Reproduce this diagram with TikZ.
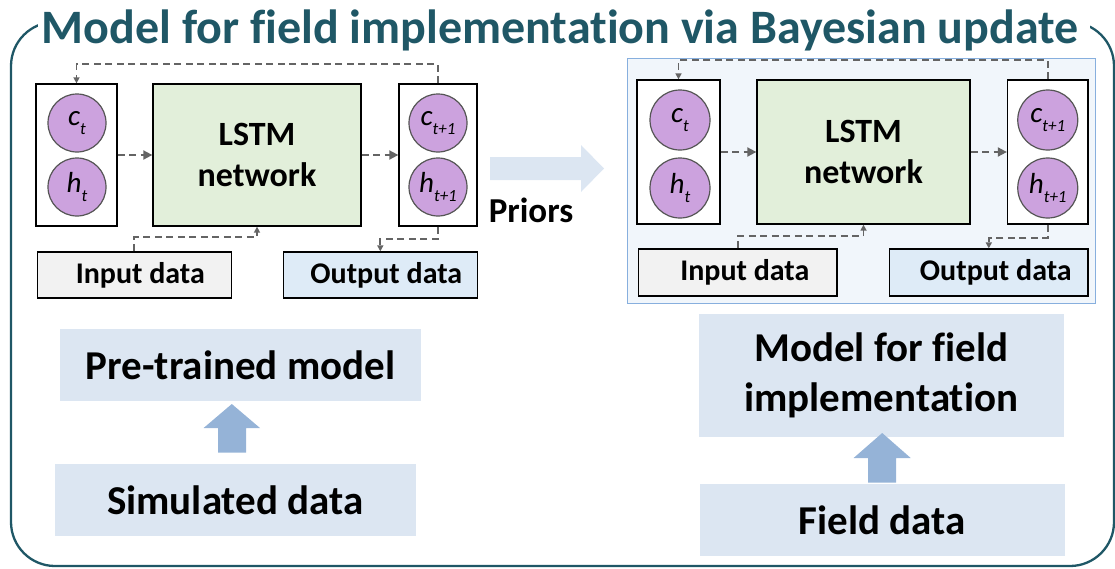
\documentclass[tikz,border=0pt]{standalone}
\usepackage{fontspec}
\setmainfont[Ligatures=CommonOff]{Carlito}
\usetikzlibrary{arrows.meta}

\definecolor{frameteal}{RGB}{31,87,102}
\definecolor{cellfill}{RGB}{204,162,222}
\definecolor{cellline}{RGB}{85,85,85}
\definecolor{lstmgreen}{RGB}{226,239,218}
\definecolor{inputgray}{RGB}{242,242,242}
\definecolor{outputblue}{RGB}{222,235,247}
\definecolor{panelfill}{RGB}{241,246,251}
\definecolor{panelline}{RGB}{135,175,222}
\definecolor{stagefill}{RGB}{220,230,242}
\definecolor{stagearrow}{RGB}{149,179,215}
\definecolor{flowgray}{RGB}{100,100,100}

% state variable with italic subscript
\newcommand\stvar[2]{\textit{#1}\raisebox{-0.28em}{\fontsize{17}{17}\selectfont\textit{#2}}}

\begin{document}
\begin{tikzpicture}[x=1pt,y=-1pt,
  box/.style={draw=black, line width=1.3pt, inner sep=0pt},
  statebox/.style={box, fill=white, minimum height=142pt},
  cell/.style={circle, draw=cellline, line width=1.2pt, fill=cellfill,
    minimum size=58pt, inner sep=0pt, font=\fontsize{29}{29}\selectfont},
  lstmbox/.style={box, fill=lstmgreen, minimum height=142pt, align=center,
    font=\bfseries\fontsize{34}{41}\selectfont},
  databox/.style={box, minimum height=46pt, font=\bfseries\fontsize{30}{30}\selectfont},
  flow/.style={draw=flowgray, line width=1.8pt, dash pattern=on 7pt off 4.5pt},
  flowbig/.style={flow, -{Triangle[length=9pt,width=9pt]}},
  flowsmall/.style={flow, -{Triangle[length=6pt,width=6pt]}},
  stage/.style={fill=stagefill, inner sep=0pt, align=center,
    font=\bfseries\fontsize{41}{50}\selectfont},
  blockarrow/.style={fill=stagearrow}
]
\useasboundingbox (0,0) rectangle (1115,568);

% outer frame with the title set into its top edge
\draw[frameteal, line width=2.3pt, rounded corners=44pt] (11,22) rectangle (1114,566);
\fill[white] (38,0) rectangle (1090,47);
\node[anchor=base, text=frameteal, font=\bfseries\fontsize{48}{48}\selectfont, inner sep=0pt]
  (title) at (560,43) {Model for field implementation via Bayesian update};

% ---------- pre-trained LSTM ----------
\node[statebox, minimum width=81pt] (sA) at (76.5,155) {};
\node[cell] (cA) at (77,123) {\stvar{c}{t}};
\node[cell] (hA) at (77,187) {\stvar{h}{t}};
\node[lstmbox, minimum width=208pt] (lstmA) at (257,155) {LSTM\\network};
\node[statebox, minimum width=78pt] (tA) at (438,155) {};
\node[cell] (cA1) at (438,123) {\stvar{c}{t+1}};
\node[cell] (hA1) at (438,187) {\stvar{h}{t+1}};
\node[databox, fill=inputgray, minimum width=194pt] (inA) at (134.3,275) {\hspace*{12pt}Input data};
\node[databox, fill=outputblue, minimum width=194pt] (outA) at (380.3,275) {\hspace*{12pt}Output data};

\draw[flowbig] (sA.east) -- (lstmA.west);
\draw[flowbig] (lstmA.east) -- (tA.west);
\draw[flowsmall] (tA.north) -- ++(0,-19) -| (sA.north);
\draw[flowsmall] (inA.north) -- ++(0,-14) -| (lstmA.south);
\draw[flowsmall] (tA.south) -- ++(0,12) -| (outA.north);

% priors arrow
\fill[stagefill] (490,157) -- (581,157) -- (581,145) -- (604,168.5)
  -- (581,192) -- (581,180) -- (490,180) -- cycle;
\node[anchor=base, font=\bfseries\fontsize{35}{35}\selectfont, inner sep=0pt]
  (priors) at (531,222) {Priors};

% ---------- updated LSTM ----------
\node[draw=panelline, line width=1pt, fill=panelfill, minimum width=468pt,
  minimum height=245pt, inner sep=0pt] (panel) at (861,180.5) {};
\node[statebox, minimum width=83pt, minimum height=144pt] (sB) at (678.5,152) {};
\node[cell, minimum size=60pt] (cB) at (680,120) {\stvar{c}{t}};
\node[cell, minimum size=60pt] (hB) at (680,188) {\stvar{h}{t}};
\node[lstmbox, minimum width=213pt, minimum height=144pt] (lstmB) at (863.5,152) {LSTM\\network};
\node[statebox, minimum width=80.5pt, minimum height=144pt] (tB) at (1047.75,152) {};
\node[cell, minimum size=60pt] (cB1) at (1047.75,120) {\stvar{c}{t+1}};
\node[cell, minimum size=60pt] (hB1) at (1047.75,188) {\stvar{h}{t+1}};
\node[databox, fill=inputgray, minimum width=198.4pt, minimum height=47pt] (inB) at (737.8,272.5) {\hspace*{14pt}Input data};
\node[databox, fill=outputblue, minimum width=198.4pt, minimum height=47pt] (outB) at (988.8,272.5) {\hspace*{14pt}Output data};

\draw[flowbig] (sB.east) -- (lstmB.west);
\draw[flowbig] (lstmB.east) -- (tB.west);
\draw[flowsmall] (tB.north) -- ++(0,-19) -| (sB.north);
\draw[flowsmall] (inB.north) -- ++(0,-12) -| (lstmB.south);
\draw[flowsmall] (tB.south) -- ++(0,13) -| (outB.north);

% ---------- data stages ----------
\node[stage, minimum width=361pt, minimum height=72pt] (pre) at (240.5,365) {Pre-trained model};
\node[stage, minimum width=361.4pt, minimum height=72pt] (sim) at (235.3,500) {Simulated data};
\fill[blockarrow] (218,452.7) -- (218,428) -- (203.6,428) -- (231.8,404)
  -- (260,428) -- (246,428) -- (246,452.7) -- cycle;

\node[stage, minimum width=364.6pt, minimum height=123pt] (model) at (881.3,375.5) {Model for field\\implementation};
\node[stage, minimum width=364.6pt, minimum height=72pt] (field) at (882.3,520) {Field data};
\fill[blockarrow] (868,482.7) -- (868,458) -- (853.6,458) -- (882.2,433)
  -- (910.7,458) -- (896,458) -- (896,482.7) -- cycle;
\end{tikzpicture}
\end{document}
